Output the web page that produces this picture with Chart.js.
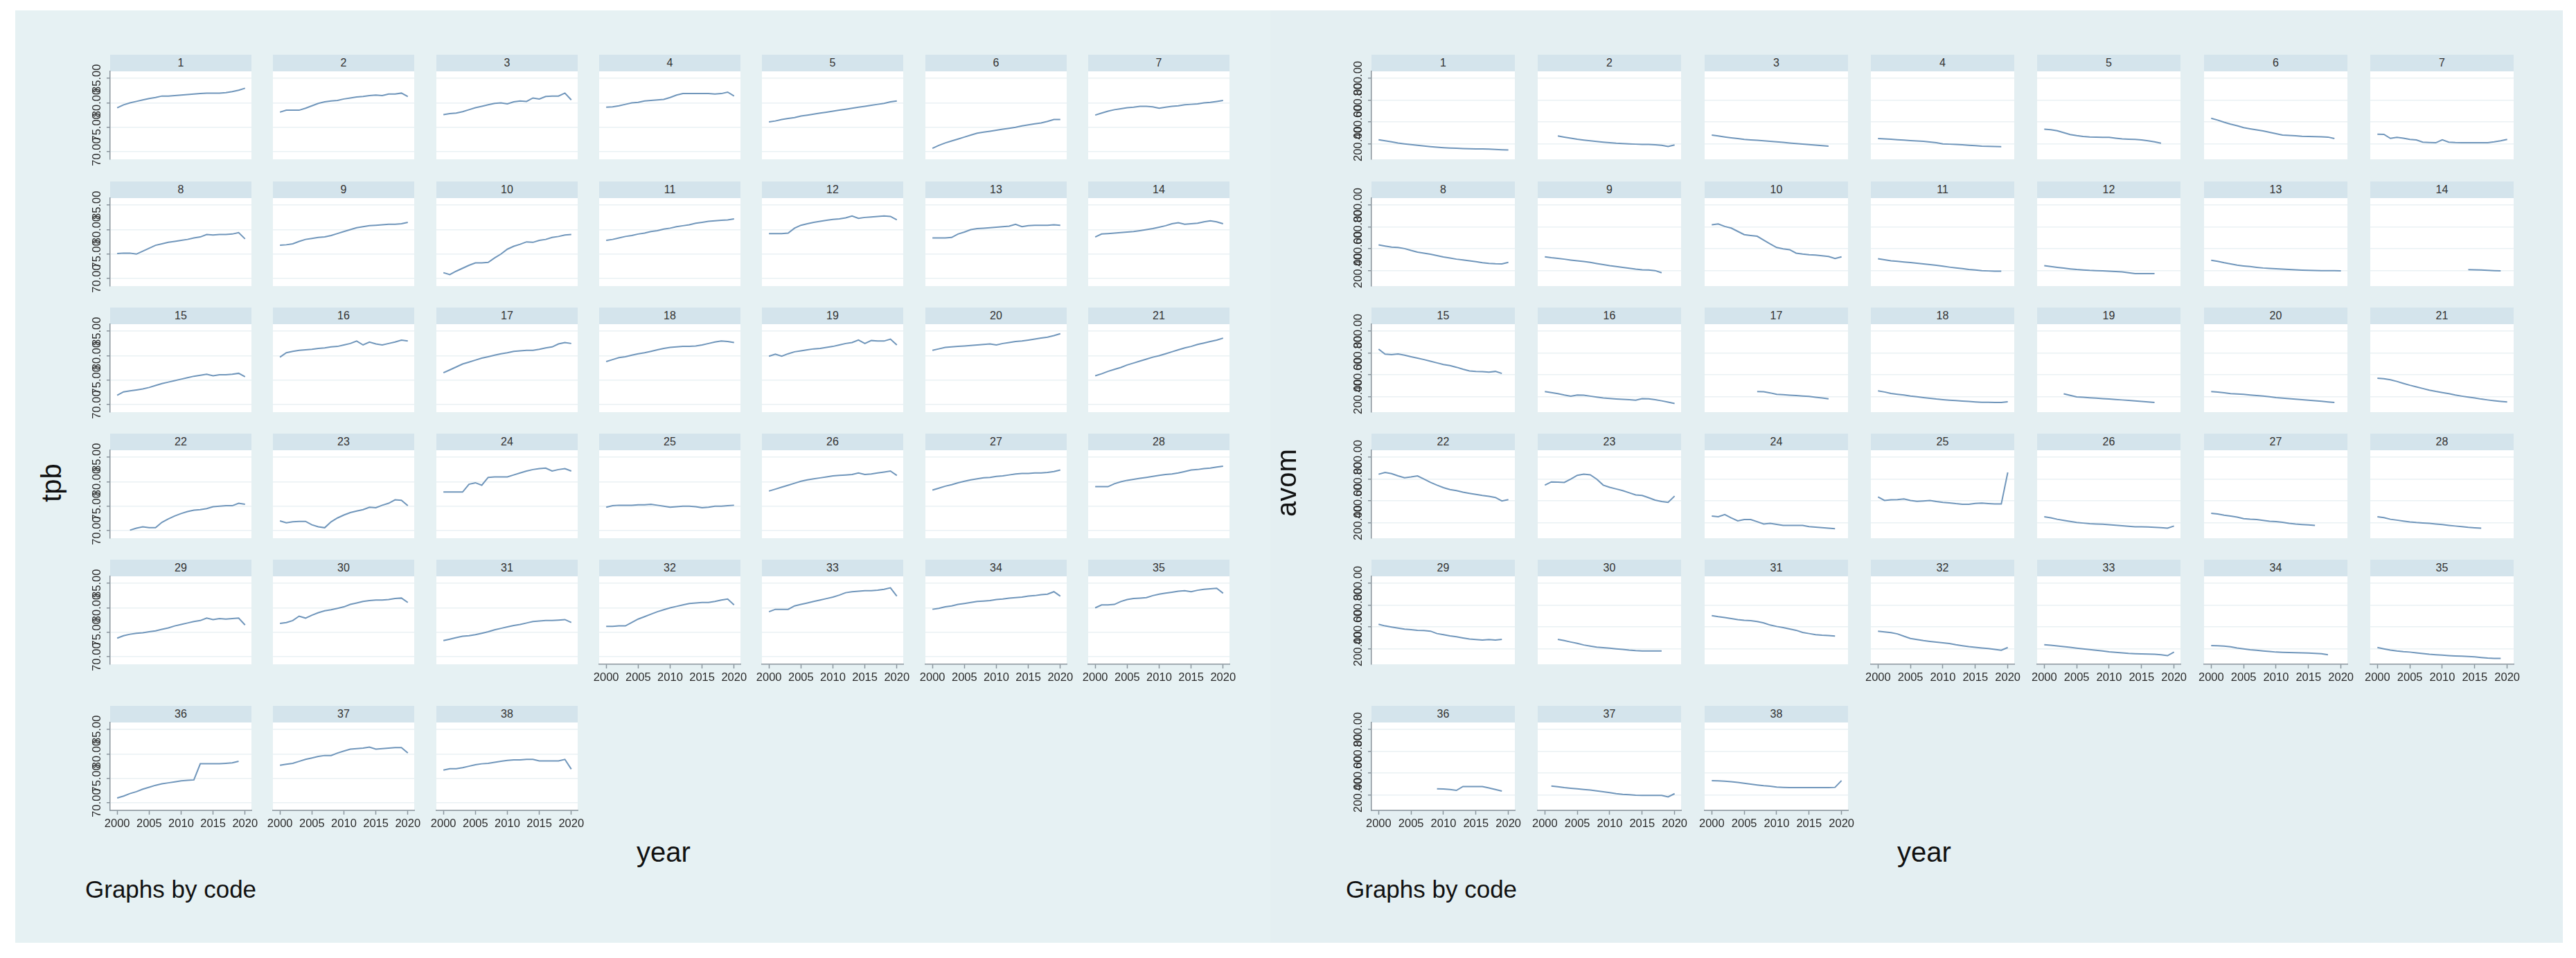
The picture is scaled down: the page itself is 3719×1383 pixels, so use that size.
<!DOCTYPE html>
<html><head><meta charset="utf-8">
<script src="https://cdn.jsdelivr.net/npm/chart.js@4.4.1/dist/chart.umd.min.js"></script>
<style>
html,body{margin:0;padding:0;background:#fff;}
body{width:3719px;height:1383px;position:relative;overflow:hidden;font-family:"Liberation Sans",Arial,sans-serif;}
.bg{position:absolute;}
.hdr{position:absolute;background:#d4e4ec;color:#333;font-size:16px;text-align:center;line-height:24px;height:24px;}
canvas{position:absolute;}
.t{position:absolute;color:#111;white-space:nowrap;line-height:1;}
</style></head><body>
<script>
const N = null;
const years = [2000,2001,2002,2003,2004,2005,2006,2007,2008,2009,2010,2011,2012,2013,2014,2015,2016,2017,2018,2019,2020];
const codes = [1,2,3,4,5,6,7,8,9,10,11,12,13,14,15,16,17,18,19,20,21,22,23,24,25,26,27,28,29,30,31,32,33,34,35,36,37,38];
const yearTicks = [2000,2005,2010,2015,2020];
const tpbTicks = [70,75,80,85];
const avomTicks = [200,400,600,800];

const tpb = [
[79.0,79.6,80.0,80.3,80.6,80.9,81.1,81.4,81.4,81.5,81.6,81.7,81.8,81.9,82.0,82.0,82.0,82.1,82.3,82.6,83.0],
[78.1,78.5,78.5,78.5,78.9,79.4,79.9,80.2,80.4,80.5,80.8,81.0,81.2,81.3,81.5,81.6,81.5,81.8,81.8,82.0,81.3],
[77.6,77.8,77.9,78.2,78.6,79.0,79.3,79.6,79.9,80.0,79.8,80.2,80.4,80.3,81.0,80.8,81.3,81.4,81.4,82.0,80.6],
[79.1,79.2,79.4,79.7,80.0,80.1,80.4,80.5,80.6,80.7,81.1,81.6,81.9,81.9,81.9,81.9,81.9,81.8,81.9,82.2,81.4],
[76.1,76.3,76.6,76.8,77.0,77.3,77.5,77.7,77.9,78.1,78.3,78.5,78.7,78.9,79.1,79.3,79.5,79.7,79.9,80.2,80.4],
[70.7,71.3,71.8,72.2,72.6,73.0,73.4,73.8,74.0,74.2,74.4,74.6,74.8,75.0,75.3,75.5,75.7,75.9,76.2,76.6,76.6],
[77.5,77.9,78.3,78.6,78.8,79.0,79.1,79.3,79.3,79.2,78.9,79.1,79.3,79.4,79.6,79.7,79.8,80.0,80.1,80.3,80.5],
[75.1,75.2,75.2,75.0,75.6,76.2,76.8,77.1,77.4,77.6,77.8,78.0,78.3,78.5,79.0,78.9,79.0,79.0,79.1,79.4,78.1],
[76.8,76.9,77.1,77.6,78.0,78.2,78.4,78.5,78.8,79.2,79.6,80.0,80.4,80.6,80.8,80.9,81.0,81.1,81.1,81.2,81.5],
[71.2,70.8,71.5,72.1,72.7,73.2,73.2,73.3,74.2,75.0,76.0,76.6,77.0,77.5,77.4,77.8,78.0,78.4,78.6,78.9,79.0],
[77.8,78.0,78.3,78.6,78.8,79.1,79.3,79.6,79.8,80.1,80.3,80.6,80.8,81.0,81.3,81.5,81.7,81.8,81.9,82.0,82.2],
[79.2,79.2,79.2,79.3,80.3,80.9,81.2,81.5,81.7,81.9,82.1,82.2,82.4,82.8,82.3,82.5,82.6,82.7,82.8,82.7,82.0],
[78.3,78.3,78.3,78.4,79.1,79.5,80.0,80.2,80.3,80.4,80.5,80.6,80.7,81.1,80.6,80.8,80.9,80.9,80.9,81.0,80.9],
[78.5,79.1,79.2,79.3,79.4,79.5,79.6,79.8,80.0,80.2,80.5,80.8,81.2,81.4,81.1,81.2,81.3,81.6,81.8,81.6,81.2],
[71.9,72.6,72.8,73.0,73.2,73.5,73.9,74.3,74.6,74.9,75.2,75.5,75.8,76.0,76.2,75.9,76.1,76.1,76.2,76.4,75.7],
[79.7,80.6,80.9,81.1,81.2,81.3,81.5,81.6,81.8,81.9,82.2,82.5,83.0,82.2,82.8,82.4,82.2,82.5,82.8,83.2,83.0],
[76.5,77.1,77.7,78.3,78.7,79.1,79.5,79.8,80.1,80.4,80.6,80.9,81.0,81.1,81.1,81.3,81.6,81.8,82.4,82.7,82.5],
[78.8,79.2,79.6,79.8,80.1,80.4,80.6,80.9,81.2,81.5,81.7,81.8,81.9,81.9,82.0,82.2,82.5,82.8,83.0,82.9,82.7],
[79.9,80.3,79.9,80.4,80.8,81.0,81.2,81.4,81.5,81.7,81.9,82.2,82.5,82.7,83.2,82.5,83.1,83.0,83.0,83.4,82.2],
[81.1,81.4,81.7,81.8,81.9,82.0,82.1,82.2,82.3,82.4,82.2,82.5,82.7,82.9,83.0,83.2,83.4,83.6,83.8,84.1,84.5],
[75.9,76.3,76.8,77.2,77.6,78.1,78.5,78.9,79.3,79.7,80.0,80.4,80.8,81.2,81.6,81.9,82.3,82.6,82.9,83.2,83.6],
[N,N,70.1,70.5,70.8,70.6,70.6,71.7,72.4,73.0,73.5,73.9,74.2,74.3,74.5,74.9,75.0,75.1,75.1,75.6,75.4],
[72.0,71.6,71.8,71.9,71.9,71.2,70.8,70.6,71.8,72.6,73.2,73.7,74.0,74.3,74.8,74.7,75.2,75.6,76.3,76.2,75.1],
[77.9,77.9,77.9,77.9,79.5,79.8,79.3,80.9,81.0,81.0,81.0,81.4,81.8,82.2,82.5,82.7,82.8,82.2,82.5,82.7,82.2],
[74.8,75.1,75.2,75.2,75.2,75.3,75.3,75.4,75.2,75.0,74.8,74.9,75.0,75.0,74.9,74.7,74.8,75.0,75.0,75.1,75.2],
[78.1,78.5,78.9,79.3,79.7,80.1,80.4,80.6,80.8,81.0,81.2,81.3,81.4,81.5,81.8,81.5,81.6,81.8,82.0,82.2,81.3],
[78.3,78.7,79.1,79.4,79.8,80.1,80.4,80.6,80.8,80.9,81.1,81.2,81.4,81.6,81.7,81.7,81.8,81.8,81.9,82.1,82.4],
[79.0,79.0,79.0,79.6,80.0,80.3,80.5,80.7,80.9,81.1,81.3,81.5,81.6,81.8,82.1,82.4,82.5,82.7,82.8,83.0,83.2],
[73.8,74.3,74.6,74.8,74.9,75.1,75.3,75.6,75.9,76.3,76.6,76.9,77.2,77.4,77.9,77.6,77.8,77.7,77.8,77.9,76.5],
[76.8,77.0,77.4,78.3,77.9,78.5,79.0,79.4,79.6,79.9,80.2,80.7,81.0,81.3,81.5,81.6,81.6,81.7,81.9,82.0,81.1],
[73.3,73.6,73.9,74.2,74.3,74.5,74.8,75.1,75.5,75.8,76.1,76.4,76.6,76.9,77.2,77.3,77.4,77.4,77.5,77.6,77.0],
[76.2,76.2,76.3,76.3,77.0,77.7,78.2,78.7,79.2,79.6,80.0,80.3,80.6,80.9,81.0,81.1,81.1,81.3,81.6,81.8,80.6],
[79.2,79.7,79.7,79.7,80.4,80.7,81.0,81.3,81.6,81.9,82.2,82.6,83.1,83.3,83.4,83.5,83.5,83.6,83.8,84.1,82.4],
[79.7,79.9,80.2,80.4,80.7,80.9,81.1,81.3,81.4,81.5,81.7,81.8,82.0,82.1,82.2,82.4,82.5,82.7,82.8,83.3,82.4],
[80.0,80.6,80.6,80.7,81.3,81.7,81.9,82.0,82.1,82.5,82.8,83.0,83.2,83.4,83.5,83.3,83.6,83.8,83.9,84.0,83.0],
[71.0,71.4,71.9,72.3,72.8,73.2,73.6,73.9,74.1,74.3,74.5,74.6,74.7,78.0,78.0,78.0,78.0,78.1,78.2,78.5,N],
[77.7,77.9,78.1,78.5,78.9,79.2,79.5,79.7,79.7,80.2,80.6,81.0,81.1,81.2,81.4,81.0,81.1,81.2,81.3,81.3,80.2],
[76.7,77.0,77.0,77.2,77.5,77.8,78.0,78.1,78.3,78.5,78.7,78.8,78.8,78.9,78.9,78.6,78.6,78.6,78.6,78.9,76.9]
];

const avom = [
[238,228,218,208,200,193,186,180,174,169,165,162,159,157,155,154,153,151,149,146,143],
[N,N,272,262,252,242,235,228,222,216,211,206,203,200,197,195,194,192,187,175,190],
[281,272,263,255,248,240,236,232,228,223,218,213,207,202,198,193,189,184,179,N,N],
[249,246,243,238,234,230,226,223,217,210,200,197,194,191,187,183,179,177,175,174,N],
[334,330,320,303,285,275,268,263,261,260,259,252,246,243,240,236,228,218,206,N,N],
[434,418,398,381,366,349,338,328,319,306,293,281,278,274,270,268,266,264,262,249,N],
[289,287,250,260,252,241,236,215,212,210,237,215,212,211,210,210,210,211,218,228,241],
[436,425,415,412,402,385,370,360,350,338,325,315,305,298,290,282,272,266,263,262,275],
[327,318,312,305,297,290,283,275,265,255,245,237,230,222,213,208,205,200,180,N,N],
[620,628,605,590,560,530,522,515,480,445,412,400,392,360,352,346,342,336,330,311,326],
[309,300,290,285,279,274,268,262,255,248,240,232,225,218,210,205,199,197,195,194,N],
[245,238,230,223,216,210,206,202,200,198,195,192,188,180,173,172,172,172,N,N,N],
[294,285,272,262,250,243,237,230,224,220,217,214,210,207,204,202,201,200,200,199,198],
[N,N,N,N,N,N,N,N,N,N,N,N,N,N,209,208,206,203,200,198,N],
[636,590,585,592,580,566,553,540,525,510,495,485,470,452,436,432,430,425,432,413,N],
[247,238,228,215,205,215,214,205,196,188,183,179,175,172,168,182,180,172,162,150,138],
[N,N,N,N,N,N,N,247,245,235,222,218,214,210,206,202,195,188,180,N,N],
[253,243,230,222,215,206,200,192,185,178,173,168,164,160,156,152,149,148,147,147,153],
[N,N,N,226,212,198,194,190,186,182,178,174,170,166,162,157,152,147,N,N,N],
[247,242,236,228,225,222,216,211,206,199,192,187,182,177,172,168,163,158,152,147,N],
[370,365,355,340,322,305,290,275,260,248,238,228,215,205,196,188,178,170,163,157,151],
[645,662,650,630,612,620,630,600,570,545,522,505,495,480,470,460,450,442,432,400,412],
[545,575,572,570,600,635,645,640,600,545,525,510,495,475,455,450,430,408,395,387,445],
[262,255,275,245,217,230,230,210,188,195,185,175,175,175,175,165,160,155,150,145,N],
[437,405,410,412,418,405,396,400,405,395,387,382,375,370,370,378,380,376,372,372,662],
[255,245,232,222,212,202,197,192,189,186,182,177,172,168,163,163,161,158,155,150,170],
[287,280,270,262,252,238,233,230,222,214,210,204,195,188,184,180,175,N,N,N,N],
[255,247,232,224,216,208,202,198,194,189,183,176,170,164,158,154,150,N,N,N,N],
[425,410,400,390,380,375,370,368,362,340,330,318,310,300,290,285,280,285,280,287,N],
[N,N,287,275,262,250,235,225,215,210,205,200,195,188,183,181,180,180,180,N,N],
[505,495,487,478,468,462,458,450,438,418,405,395,382,370,350,340,330,325,322,317,N],
[362,355,348,337,315,295,285,275,268,262,255,248,237,228,220,214,208,203,195,187,212],
[237,232,227,220,213,206,199,193,186,180,172,167,163,158,155,153,151,150,145,137,170],
[230,228,225,218,208,200,192,186,180,175,170,168,166,164,163,162,158,155,145,N,N],
[212,200,188,180,174,170,163,157,150,146,142,138,135,132,129,126,120,115,112,112,N],
[N,N,N,N,N,N,N,N,N,257,255,250,242,278,278,277,277,265,250,236,N],
[N,282,276,268,262,256,250,245,238,230,222,212,206,202,198,196,196,196,196,182,212],
[332,330,327,322,316,308,300,292,285,280,273,270,268,268,268,268,268,268,268,270,332]
];

// ---- layout (positions / styles only) ----
const AX = 45, BX = 34, PR = 24, PT = 20, PB = 20, HDR_H = 24, PLOT_H = 127;
const rowTops = [79, 262, 444, 626, 808, 1019];
const LINE = '#7096bb', AXC = '#8a949c', GRID = '#eaf1f4';
const FONT = '16.5px "Liberation Sans", Arial, sans-serif';

const graphs = [
  {ytitle:'tpb', series:tpb, ticks:tpbTicks, ymin:68.45, ymax:86.45, bgX:22, bgW:1812, bgC:'#e6f1f3',
   colX0:159, colStep:235.3, panelW:204, titleX:74, xTitleX:958, noteX:123},
  {ytitle:'avom', series:avom, ticks:avomTicks, ymin:58, ymax:865, bgX:1834, bgW:1866, bgC:'#e4eff2',
   colX0:1980, colStep:240.3, panelW:207, titleX:1857, xTitleX:2778, noteX:1943}
];

const deco = {
  id: 'deco',
  beforeDraw(chart) {
    const {ctx, chartArea: a} = chart;
    ctx.save(); ctx.fillStyle = '#ffffff';
    ctx.fillRect(a.left, a.top, a.right - a.left, a.bottom - a.top);
    ctx.restore();
  },
  afterDraw(chart, args, o) {
    const ctx = chart.ctx, a = chart.chartArea;
    ctx.save(); ctx.fillStyle = '#2b2b2b'; ctx.font = FONT;
    ctx.textAlign = 'center'; ctx.textBaseline = 'middle';
    if (o.yLabels) {
      const s = chart.scales.y;
      o.yTicks.forEach(v => {
        const py = s.getPixelForValue(v);
        ctx.save(); ctx.translate(a.left - 19, py); ctx.rotate(-Math.PI / 2);
        ctx.fillText(v.toFixed(2), 0, 0); ctx.restore();
      });
    }
    if (o.xLabels) {
      const s = chart.scales.x;
      o.xTicks.forEach(v => ctx.fillText(String(v), s.getPixelForValue(v), a.bottom + 19));
    }
    ctx.restore();
  }
};

function addDiv(cls, x, y, w, h, style, text) {
  const d = document.createElement('div');
  d.className = cls;
  d.style.left = x + 'px'; d.style.top = y + 'px';
  if (w != null) d.style.width = w + 'px';
  if (h != null) d.style.height = h + 'px';
  Object.assign(d.style, style || {});
  if (text != null) d.textContent = text;
  document.body.appendChild(d);
  return d;
}

graphs.forEach(g => {
  addDiv('bg', g.bgX, 15, g.bgW, 1346, {background: g.bgC});
});

graphs.forEach(g => {
  codes.forEach((code, k) => {
    const row = Math.floor(k / 7), col = k % 7;
    const x = Math.round(g.colX0 + col * g.colStep);
    addDiv('hdr', x, rowTops[row], g.panelW, HDR_H, null, String(code));
  });
});

graphs.forEach(g => {
  codes.forEach((code, k) => {
    const row = Math.floor(k / 7), col = k % 7;
    const x = Math.round(g.colX0 + col * g.colStep);
    const plotTop = rowTops[row] + HDR_H;
    const isBottom = k >= 31;
    const isFirst = col === 0;
    const cv = document.createElement('canvas');
    const W = AX + g.panelW + PR, H = PT + PLOT_H + (isBottom ? BX : PB);
    cv.width = W; cv.height = H;
    cv.style.left = (x - AX) + 'px'; cv.style.top = (plotTop - PT) + 'px';
    cv.style.width = W + 'px'; cv.style.height = H + 'px';
    document.body.appendChild(cv);
    const vals = g.series[k];
    const xScale = {type: 'linear', display: isBottom, min: 1998.9, max: 2021.0,
      afterBuildTicks: s => { s.ticks = yearTicks.map(v => ({value: v})); },
      ticks: {display: false},
      grid: {drawOnChartArea: false, drawTicks: true, tickLength: 6, tickColor: AXC, tickWidth: 1.5},
      border: {display: true, color: AXC, width: 1.5}};
    if (isBottom) xScale.afterFit = s => { s.height = BX; };
    new Chart(cv, {
      type: 'line',
      data: {datasets: [{
        data: years.map((yr, i) => ({x: yr, y: vals[i]})),
        borderColor: LINE, borderWidth: 2, pointRadius: 0, tension: 0, spanGaps: false, fill: false
      }]},
      options: {
        responsive: false, animation: false, devicePixelRatio: 1, events: [],
        layout: {padding: {left: 0, top: PT, bottom: isBottom ? 0 : PB, right: PR}},
        plugins: {legend: {display: false}, tooltip: {enabled: false},
          deco: {yLabels: isFirst, yTicks: g.ticks, xLabels: isBottom, xTicks: yearTicks}},
        scales: {
          x: xScale,
          y: {type: 'linear', min: g.ymin, max: g.ymax,
            afterBuildTicks: s => { s.ticks = g.ticks.map(v => ({value: v})); },
            afterFit: s => { s.width = AX; },
            ticks: {display: false},
            grid: {color: GRID, lineWidth: 1.5, drawTicks: isFirst, tickLength: 5, tickColor: AXC, tickWidth: 1.5},
            border: {display: isFirst, color: AXC, width: 1.5}}
        }
      },
      plugins: [deco]
    });
  });
});

graphs.forEach(g => {
  addDiv('t', g.titleX - 60, 697 - 22, 120, 44,
    {fontSize: '40px', textAlign: 'center', lineHeight: '44px', transform: 'rotate(-90deg)'}, g.ytitle);
  addDiv('t', g.xTitleX - 60, 1210, 120, null, {fontSize: '40px', textAlign: 'center'}, 'year');
  addDiv('t', g.noteX, 1266, null, null, {fontSize: '35px'}, 'Graphs by code');
});
</script>
</body></html>
